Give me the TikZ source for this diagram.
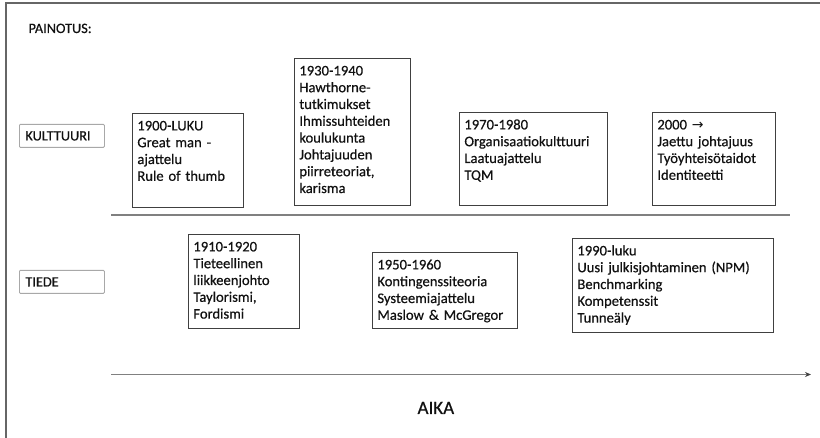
\documentclass[tikz,border=0pt]{standalone}
\usepackage{fontspec}
\setmainfont{Carlito}[FakeBold=0.5]
\newfontfamily\nuolifont{DejaVu Sans}
\usetikzlibrary{arrows.meta}
\hyphenpenalty=10000

\definecolor{viiva}{HTML}{808080}
\definecolor{reuna}{HTML}{404040}
\definecolor{harmaa}{HTML}{A8A8A8}
\definecolor{teksti}{HTML}{111111}

\tikzset{
  kausi/.style={draw=reuna, line width=0.8pt, anchor=north west, align=left,
    inner xsep=5pt, inner ysep=6pt, text height=11pt, text=teksti,
    font=\fontsize{14.6}{16.8}\selectfont},
  luokka/.style={draw=harmaa, line width=0.8pt, rounded corners=1pt, anchor=north west,
    minimum height=23pt, text width=73pt, inner xsep=6pt, align=left, text=teksti,
    font=\fontsize{14.3}{16}\selectfont},
  aikajana/.style={draw=viiva, line width=1.5pt}
}

\begin{document}
\begin{tikzpicture}[x=1pt,y=-1pt]%[line cap=round,line join=round]
\useasboundingbox (0,0) rectangle (820,438);
\draw [line width=1.5pt, reuna!80] (6,438) -- (6,3) -- (820,3);

\node [anchor=base west, text=teksti, font=\fontsize{14.3}{16}\selectfont] (painotus) at (25,33) {PAINOTUS:};
\node [luokka] (kulttuuri) at (19,124) {KULTTUURI};
\node [luokka] (tiede) at (19,270) {TIEDE};

\node [kausi, text width=101pt, text depth=71pt] (k1900) at (132,113) {1900-LUKU\\Great man -\\ajattelu\\Rule of thumb};
\node [kausi, text width=106pt, text depth=124pt] (k1930) at (294,58) {1930-1940\\Hawthorne-\\tutkimukset\\Ihmissuhteiden\\koulukunta\\Johtajuuden\\piirreteoriat,\\karisma};
\node [kausi, text width=138pt, text depth=70pt] (k1970) at (459,112) {1970-1980\\Organisaatiokulttuuri\\Laatuajattelu\\TQM};
\node [kausi, text width=113pt, text depth=70pt] (k2000) at (652,112) {2000 {\nuolifont\fontsize{14}{16}\selectfont →}\\Jaettu johtajuus\\Työyhteisötaidot\\Identiteetti};

\node [kausi, text width=101pt, text depth=71pt] (k1910) at (188,234) {1910-1920\\Tieteellinen\\liikkeenjohto\\Taylorismi,\\Fordismi};
\node [kausi, text width=135pt, text depth=53pt] (k1950) at (372,252) {1950-1960\\Kontingenssiteoria\\Systeemiajattelu\\Maslow \& McGregor};
\node [kausi, text width=191pt, text depth=71pt] (k1990) at (572,238) {1990-luku\\Uusi julkisjohtaminen (NPM)\\Benchmarking\\Kompetenssit\\Tunneäly};

\coordinate (jako-a) at (111,215);
\coordinate (jako-b) at (790,215);
\draw [aikajana] (jako-a) -- (jako-b);

\coordinate (aika-a) at (111,374.5);
\coordinate (aika-b) at (811,374.5);
\draw [aikajana, -{Stealth[length=6pt,width=5pt,color=reuna]}] (aika-a) -- (aika-b);
\node [anchor=base west, text=teksti, font=\fontsize{19}{22}\selectfont] (aika) at (414,414) {AIKA};
\end{tikzpicture}
\end{document}
